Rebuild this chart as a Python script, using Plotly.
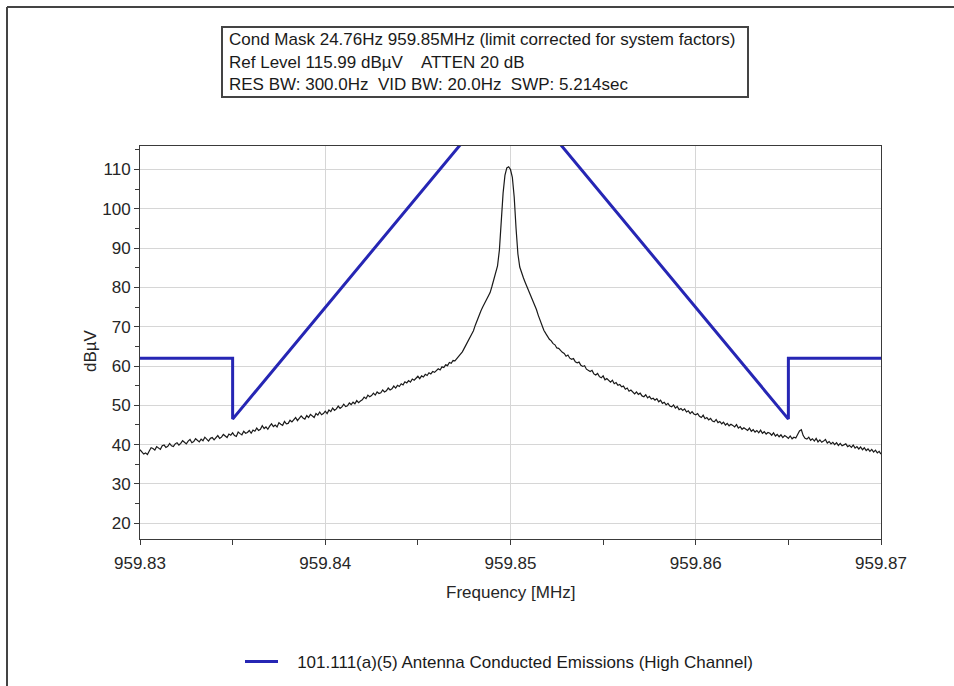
import plotly.graph_objects as go

# Spectrum analyser sweep: 959.83 - 959.87 MHz, 401 points (100 Hz spacing)
sweep_start_mhz = 959.83
sweep_stop_mhz = 959.87
sweep_points = 401

# Measured trace level (dBuV), one row per 2 kHz of span
trace_level = [
    38.7, 38.2, 37.6, 37.9, 37.5, 38.4, 39.2, 39.0, 38.6, 39.5, 39.1, 38.8, 39.7, 39.9, 39.3, 39.6, 40.3, 39.7, 39.5, 40.2,
    40.5, 39.9, 40.3, 41.0, 40.6, 40.2, 40.9, 41.3, 40.5, 40.8, 41.5, 41.1, 40.7, 41.4, 41.0, 41.9, 41.3, 40.9, 41.6, 41.8,
    41.2, 41.8, 42.3, 41.6, 41.9, 42.6, 42.1, 41.8, 42.7, 42.4, 43.0, 42.3, 42.1, 43.2, 42.8, 42.5, 43.4, 42.9, 43.1, 43.6,
    42.9, 43.7, 43.4, 44.2, 43.6, 43.9, 44.8, 44.1, 44.5, 43.9, 44.7, 45.3, 44.6, 45.0, 44.5, 45.6, 45.2, 44.9, 45.9, 45.3,
    45.4, 46.2, 45.8, 46.5, 46.9, 46.1, 46.6, 47.3, 46.8, 46.5, 47.4, 46.9, 47.7, 47.2, 46.9, 47.9, 47.5, 48.3, 47.6, 47.9,
    48.5, 47.9, 48.8, 48.4, 49.3, 48.7, 49.1, 49.8, 49.2, 49.6, 50.3, 49.7, 49.9, 50.6, 50.2, 50.8, 50.4, 51.2, 50.7, 51.1,
    51.4, 52.1, 51.7, 52.6, 52.2, 52.5, 53.1, 52.6, 53.4, 53.0, 53.2, 53.9, 53.4, 53.7, 54.4, 53.9, 54.2, 54.9, 54.4, 55.1,
    54.8, 55.5, 55.2, 56.0, 55.7, 56.3, 55.9, 56.7, 56.4, 56.9, 57.4, 56.8, 57.5, 57.2, 57.9, 57.6, 58.3, 58.0, 58.6, 58.4,
    58.8, 59.3, 59.0, 59.8, 59.6, 60.3, 60.1, 60.9, 60.7, 61.4, 61.3, 61.9, 62.3, 62.8, 63.6, 64.5, 65.4, 66.3, 67.2, 68.1,
    69.0, 70.4, 71.8, 73.0, 74.0, 75.0, 76.0, 76.9, 77.8, 78.7, 80.3, 82.0, 83.6, 85.5, 89.5, 97.0, 104.0, 108.5, 110.4, 110.7,
    110.0, 108.0, 103.0, 95.0, 88.5, 85.2, 83.6, 82.4, 81.2, 80.1, 79.0, 78.1, 77.0, 75.9, 74.4, 72.9, 71.5, 70.2, 69.1, 68.3,
    67.5, 66.8, 66.4, 65.7, 65.4, 64.6, 64.5, 63.9, 63.5, 63.2, 62.5, 62.8, 62.0, 61.7, 61.9, 61.1, 60.8, 61.0, 60.2, 59.9,
    60.1, 59.2, 59.0, 58.6, 58.9, 58.0, 57.7, 58.1, 57.3, 57.0, 57.5, 56.5, 56.8, 56.2, 55.9, 56.4, 55.5, 55.8, 55.1, 55.3,
    54.7, 54.9, 54.1, 54.4, 53.6, 53.9, 53.5, 52.9, 53.4, 52.8, 53.1, 52.4, 52.2, 52.7, 51.9, 52.3, 51.6, 51.8, 51.3, 51.7,
    50.9, 51.3, 50.5, 50.8, 50.1, 50.5, 49.8, 49.6, 50.1, 49.3, 49.7, 48.9, 49.2, 48.7, 49.1, 48.3, 48.6, 47.9, 48.4, 47.8,
    47.6, 47.9, 47.2, 46.9, 47.5, 46.6, 46.9, 46.3, 46.7, 46.0, 45.8, 46.4, 45.6, 45.9, 45.3, 45.7, 45.0, 45.4, 44.8, 45.2,
    44.9, 44.5, 45.1, 44.2, 44.6, 43.9, 44.3, 44.0, 43.6, 44.2, 43.4, 43.8, 43.2, 43.6, 43.0, 43.7, 42.9, 43.3, 42.7, 43.1,
    42.9, 42.4, 43.0, 42.2, 42.6, 42.0, 42.5, 41.8, 42.3, 42.0, 41.6, 42.2, 41.5, 41.9, 41.7, 42.6, 43.5, 43.8, 42.3, 41.6,
    41.4, 41.9, 41.1, 41.5, 40.9, 41.6, 40.7, 41.2, 40.6, 40.9, 41.3, 40.4, 40.8, 40.2, 40.6, 40.0, 40.5, 39.8, 40.3, 39.7,
    39.9, 40.2, 39.5, 39.8, 39.3, 39.9, 39.1, 39.5, 38.9, 39.4, 38.7, 39.2, 38.5, 38.9, 38.3, 38.8, 38.1, 38.6, 37.9, 38.3,
    37.6,
]

# Emission mask (limit corrected for system factors)
mask_freq = [959.83, 959.835, 959.835, 959.85, 959.865, 959.865, 959.87]
mask_level = [62.0, 62.0, 46.5, 131.7, 46.5, 62.0, 62.0]
mask_name = "101.111(a)(5) Antenna Conducted Emissions (High Channel)"

x_ticks = [959.83, 959.84, 959.85, 959.86, 959.87]
x_tick_text = ["959.83", "959.84", "959.85", "959.86", "959.87"]
y_ticks = [20, 30, 40, 50, 60, 70, 80, 90, 100, 110]

header_lines = [
    "Cond Mask 24.76Hz 959.85MHz (limit corrected for system factors)",
    "Ref Level 115.99 dB\u00b5V    ATTEN 20 dB",
    "RES BW: 300.0Hz  VID BW: 20.0Hz  SWP: 5.214sec",
]

step = (sweep_stop_mhz - sweep_start_mhz) / (sweep_points - 1)
trace_freq = [sweep_start_mhz + i * step for i in range(sweep_points)]

FONT = "Liberation Sans, Arial, sans-serif"
TEXT = "#262626"
NBSP = "\u00a0"
W, H = 954, 686
ML, MR, MT, MB = 140, 73, 146, 147
PW, PH = W - ML - MR, H - MT - MB


def px(xp):
    return (xp - ML) / PW


def py(yp):
    return 1 - (yp - MT) / PH


fig = go.Figure()
fig.add_trace(go.Scatter(
    x=trace_freq, y=trace_level, mode="lines",
    line=dict(color="#1a1a1a", width=1.2), showlegend=False, hoverinfo="skip",
))
fig.add_trace(go.Scatter(
    x=mask_freq, y=mask_level, mode="lines", name=NBSP * 3 + mask_name,
    line=dict(color="#2626b4", width=3),
))

axis_common = dict(
    showline=True, linecolor="#3a3a3a", linewidth=1, mirror=True,
    showgrid=True, gridcolor="#d6d6d6", gridwidth=1, zeroline=False,
    ticks="outside", ticklen=5, tickcolor="#3a3a3a",
    tickfont=dict(family=FONT, size=17, color=TEXT),
)

fig.update_xaxes(
    range=[sweep_start_mhz, sweep_stop_mhz], tickvals=x_ticks, ticktext=x_tick_text,
    ticklabelstandoff=4,
    minor=dict(dtick=0.005, tick0=959.83, ticks="outside", ticklen=5, tickcolor="#3a3a3a", showgrid=False),
    **axis_common,
)
fig.update_yaxes(
    range=[15.99, 115.99], tickvals=y_ticks,
    minor=dict(dtick=5, tick0=15, ticks="outside", ticklen=4, tickcolor="#3a3a3a", showgrid=False),
    **axis_common,
)

annotations = [
    dict(text="dB\u00b5V", x=px(90), y=py(351), xref="paper", yref="paper",
         xanchor="center", yanchor="middle",
         textangle=-90, showarrow=False, font=dict(family=FONT, size=17, color=TEXT)),
    dict(text="Frequency [MHz]", x=px(511), y=py(592), xref="paper", yref="paper",
         xanchor="center", yanchor="middle",
         showarrow=False, font=dict(family=FONT, size=17, color=TEXT)),
]
for i, line in enumerate(header_lines):
    annotations.append(dict(
        text=line, x=px(227), y=py(40 + 22 * i), xref="paper", yref="paper",
        xanchor="left", yanchor="middle", showarrow=False,
        font=dict(family=FONT, size=17, color="#1a1a1a"),
    ))

shapes = [
    # header box
    dict(type="rect", xref="paper", yref="paper", x0=px(222), x1=px(748), y0=py(97), y1=py(27),
         line=dict(color="#444444", width=2)),
    # outer window frame (top and left edges)
    dict(type="line", xref="paper", yref="paper", x0=px(7), x1=px(954), y0=py(7), y1=py(7),
         line=dict(color="#444444", width=2)),
    dict(type="line", xref="paper", yref="paper", x0=px(7), x1=px(7), y0=py(7), y1=py(686),
         line=dict(color="#444444", width=2)),
]

fig.update_layout(
    width=W, height=H,
    margin=dict(l=ML, r=MR, t=MT, b=MB, autoexpand=False),
    paper_bgcolor="white", plot_bgcolor="white",
    font=dict(family=FONT, color=TEXT),
    annotations=annotations, shapes=shapes,
    legend=dict(x=px(240), y=py(662), xanchor="left", yanchor="middle",
                font=dict(family=FONT, size=17, color="#1a1a1a"),
                itemwidth=33, bgcolor="rgba(0,0,0,0)"),
    showlegend=True,
)

fig.write_html("out.html")
